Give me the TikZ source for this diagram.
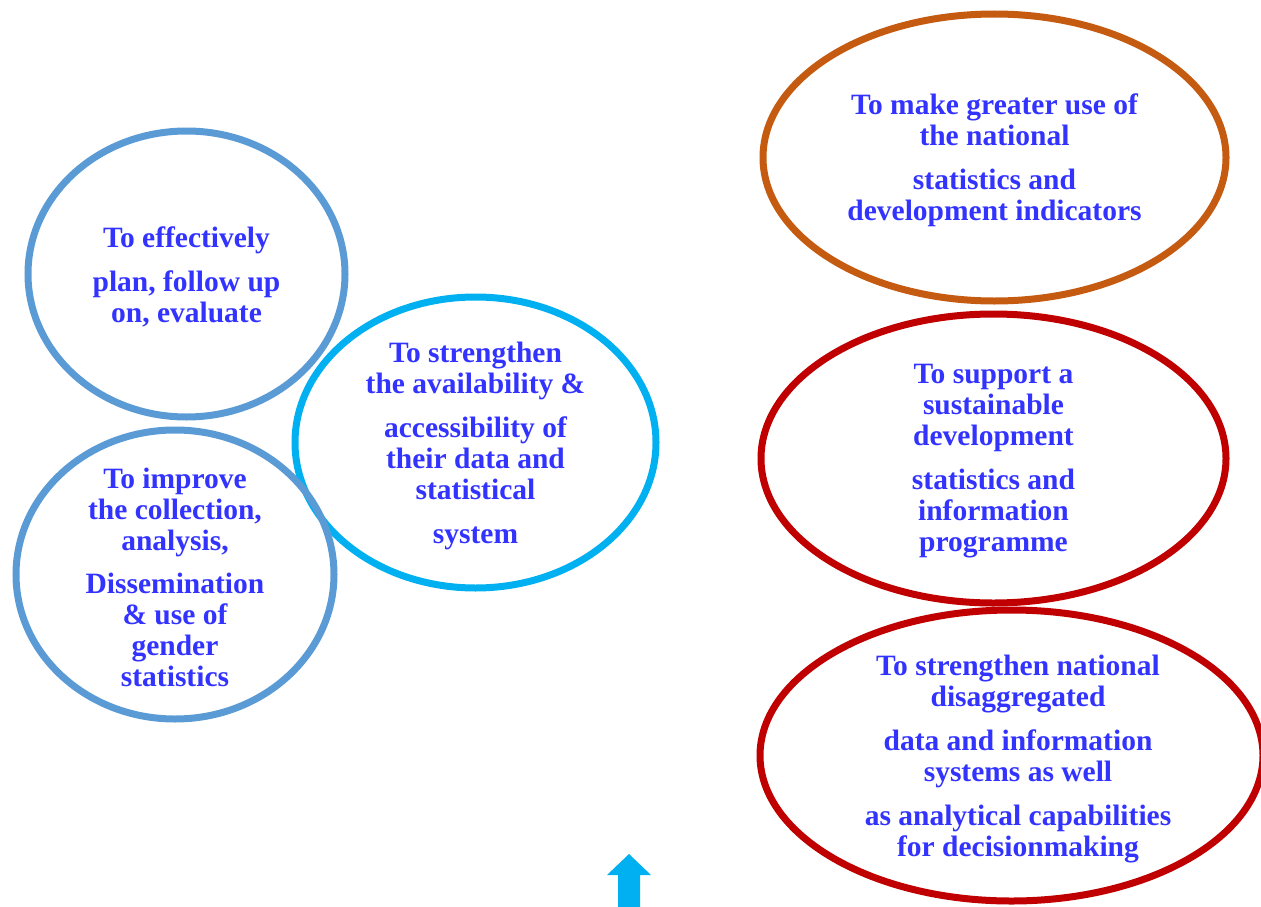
\documentclass[tikz,border=0pt]{standalone}
\usepackage{fontspec}
\setmainfont{Liberation Serif}
\usetikzlibrary{shapes.geometric,positioning}

\definecolor{ringblue}{HTML}{5B9BD5}
\definecolor{ringcyan}{HTML}{00B0F0}
\definecolor{ringorange}{HTML}{C55A11}
\definecolor{ringred}{HTML}{C00000}
\definecolor{goalblue}{HTML}{3333FF}

\begin{document}
\begin{tikzpicture}[x=1pt, y=-1pt,
    ring/.style={ellipse, draw, line width=7pt, inner sep=0pt},
    goal/.style={text=goalblue, align=center, yshift=-3pt,
        font=\fontsize{29.5}{31}\selectfont\bfseries}]
    \useasboundingbox (0,0) rectangle (1261,907);
    \clip (0,0) rectangle (1261,907);

    % left group
    \node[ring, draw=ringblue, minimum width=317pt, minimum height=286pt] (plan) at (186.5,274) {};
    \node[ring, draw=ringcyan, minimum width=361pt, minimum height=291pt] (access) at (475.5,442.5) {};
    \node[ring, draw=ringblue, minimum width=318pt, minimum height=289pt] (gender) at (175,574.5) {};

    % right column
    \node[ring, draw=ringorange, minimum width=463pt, minimum height=287pt] (use) at (994.5,157.5) {};
    \node[ring, draw=ringred, minimum width=465pt, minimum height=289pt] (support) at (993.5,458.5) {};
    \node[ring, draw=ringred, minimum width=503pt, minimum height=291pt] (capacity) at (1011.5,755.5) {};

    \node[goal] (plantxt) at (plan.center)
        {To effectively\\[13pt] plan, follow up\\ on, evaluate};
    \node[goal] (accesstxt) at (access.center)
        {To strengthen\\ the availability \&\\[13pt] accessibility of\\ their data and\\ statistical\\[13pt] system};
    \node[goal] (gendertxt) at (gender.center)
        {To improve\\ the collection,\\ analysis,\\[12pt] Dissemination\\ \& use of\\ gender\\ statistics};
    \node[goal] (usetxt) at (use.center)
        {To make greater use of\\ the national\\[13pt] statistics and\\ development indicators};
    \node[goal] (supporttxt) at (support.center)
        {To support a\\ sustainable\\ development\\[13pt] statistics and\\ information\\ programme};
    \node[goal] (capacitytxt) at (1018,756)
        {To strengthen national\\ disaggregated\\[13pt] data and information\\ systems as well\\[13pt] as analytical capabilities\\ for decisionmaking};

    % small arrow at the bottom
    \fill[ringcyan] (618,907) -- (618,875) -- (607,875) -- (629,854)
        -- (651,875) -- (640,875) -- (640,907) -- cycle;
\end{tikzpicture}
\end{document}
